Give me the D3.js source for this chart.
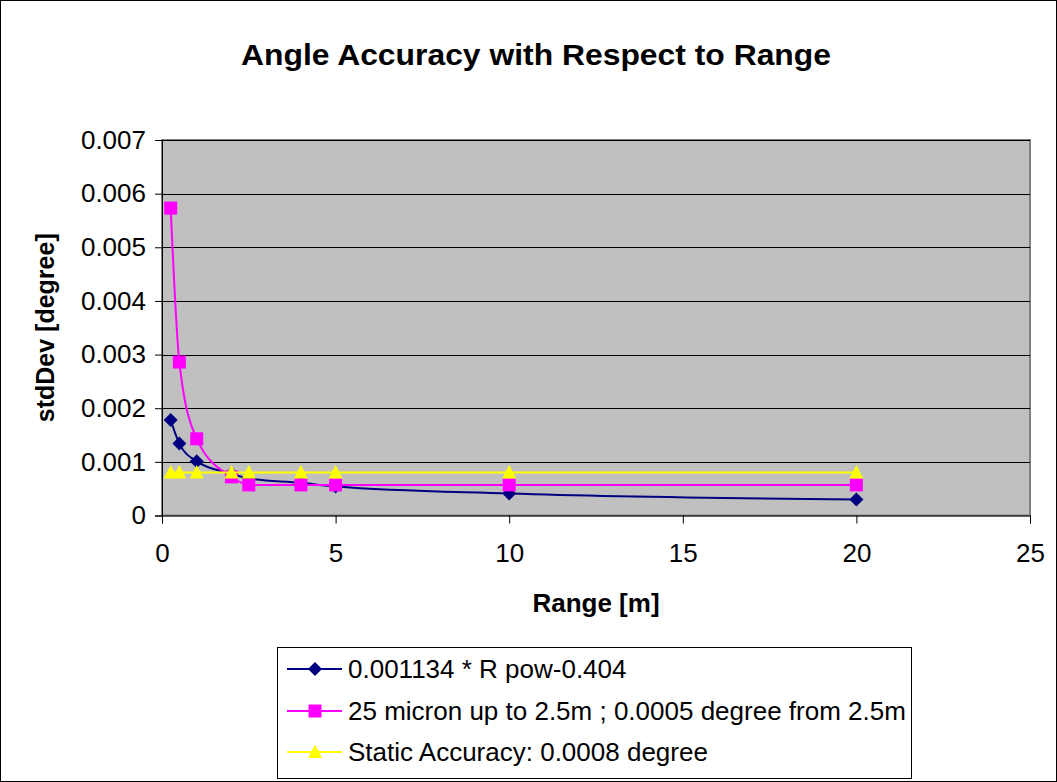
<!DOCTYPE html>
<html>
<head>
<meta charset="utf-8">
<script src="https://cdn.jsdelivr.net/npm/d3@7"></script>
<style>
  html, body { margin: 0; padding: 0; background: #fff; }
  svg { display: block; font-family: "Liberation Sans", Arial, sans-serif; }
</style>
</head>
<body>
<svg id="chart" width="1057" height="782"></svg>
<script>
// ---- data ----
const ranges = [0.25, 0.5, 1, 2, 2.5, 4, 5, 10, 20];
const powerFit = [0.00178, 0.00134, 0.00101, 0.00078, 0.00069, 0.00061, 0.00054, 0.00041, 0.00030];
const micron25 = [0.00573, 0.00286, 0.00143, 0.00072, 0.00057, 0.00057, 0.00057, 0.00057, 0.00057];
const staticAcc = [0.0008, 0.0008, 0.0008, 0.0008, 0.0008, 0.0008, 0.0008, 0.0008, 0.0008];
const xTicks = [0, 5, 10, 15, 20, 25];
const yTicks = [0, 0.001, 0.002, 0.003, 0.004, 0.005, 0.006, 0.007];
const seriesNames = ["0.001134 * R pow-0.404", "25 micron up to 2.5m ; 0.0005 degree from 2.5m", "Static Accuracy: 0.0008 degree"];
const seriesColors = ["#000080", "#FF00FF", "#FFFF00"];
const seriesShapes = ["diamond", "square", "triangle"];
const chartTitle = "Angle Accuracy with Respect to Range";
const xTitle = "Range [m]";
const yTitle = "stdDev [degree]";

const series = [powerFit, micron25, staticAcc].map((vals, i) => ({
  name: seriesNames[i], color: seriesColors[i], shape: seriesShapes[i],
  points: ranges.map((r, j) => ({x: r, y: vals[j]}))
}));

const svg = d3.select("#chart");
const W = 1057, H = 782;
const plot = {left: 162, top: 140, right: 1030, bottom: 515.5};

// outer frame
svg.append("rect").attr("x", 0.5).attr("y", 0.5).attr("width", W - 1).attr("height", H - 1)
  .attr("fill", "#fff").attr("stroke", "#000").attr("stroke-width", 1);

const x = d3.scaleLinear().domain([0, 25]).range([plot.left, plot.right]);
const y = d3.scaleLinear().domain([0, 0.007]).range([plot.bottom, plot.top]);

// plot background
svg.append("rect").attr("x", plot.left).attr("y", plot.top)
  .attr("width", plot.right - plot.left).attr("height", plot.bottom - plot.top)
  .attr("fill", "#C0C0C0").attr("stroke", "#808080").attr("stroke-width", 2);

// gridlines
svg.append("g").selectAll("line").data(yTicks.filter(d => d > 0)).join("line")
  .attr("x1", plot.left).attr("x2", plot.right)
  .attr("y1", d => Math.round(y(d)) + 0.5).attr("y2", d => Math.round(y(d)) + 0.5)
  .attr("stroke", "#000").attr("stroke-width", 1);

// axes
const yAxis = d3.axisLeft(y).tickValues(yTicks).tickSize(7).tickPadding(9)
  .tickFormat(d => d === 0 ? "0" : d3.format(".3f")(d));
const gy = svg.append("g").attr("transform", `translate(${plot.left},0)`).call(yAxis);
gy.select(".domain").attr("stroke", "#000");
gy.selectAll(".tick line").attr("stroke", "#000");
gy.selectAll(".tick text").attr("font-size", 26).attr("fill", "#000")
  .attr("font-family", "Liberation Sans, Arial, sans-serif");

const xAxis = d3.axisBottom(x).tickValues(xTicks).tickSize(8).tickPadding(20)
  .tickFormat(d3.format("d"));
const gx = svg.append("g").attr("transform", `translate(0,${plot.bottom})`).call(xAxis);
gx.select(".domain").attr("stroke", "#000");
gx.selectAll(".tick line").attr("stroke", "#000");
gx.selectAll(".tick text").attr("font-size", 26).attr("fill", "#000")
  .attr("font-family", "Liberation Sans, Arial, sans-serif");

// marker shapes
function markerPath(shape) {
  if (shape === "diamond") return "M0,-7L7,0L0,7L-7,0Z";
  if (shape === "square") return "M-6.5,-6.5H6.5V6.5H-6.5Z";
  return "M0,-7.5L7,6L-7,6Z";
}

const line = d3.line().x(d => x(d.x)).y(d => y(d.y)).curve(d3.curveMonotoneX);

series.forEach(s => {
  const g = svg.append("g");
  g.append("path").datum(s.points).attr("d", line)
    .attr("fill", "none").attr("stroke", s.color).attr("stroke-width", 2);
  g.selectAll("path.m").data(s.points).join("path").attr("class", "m")
    .attr("transform", d => `translate(${x(d.x)},${y(d.y)})`)
    .attr("d", markerPath(s.shape)).attr("fill", s.color);
});

// title
svg.append("text").attr("x", 536).attr("y", 65).attr("text-anchor", "middle")
  .attr("font-size", 30).attr("font-weight", "bold")
  .attr("textLength", 590).attr("lengthAdjust", "spacingAndGlyphs").text(chartTitle);

// axis titles
svg.append("text").attr("x", (plot.left + plot.right) / 2).attr("y", 612)
  .attr("text-anchor", "middle").attr("font-size", 26).attr("font-weight", "bold").text(xTitle);
svg.append("text").attr("transform", `translate(54,${(plot.top + plot.bottom) / 2}) rotate(-90)`)
  .attr("text-anchor", "middle").attr("font-size", 25).attr("font-weight", "bold").text(yTitle);

// legend
const lg = svg.append("g");
lg.append("rect").attr("x", 277.5).attr("y", 647.5).attr("width", 634).attr("height", 131)
  .attr("fill", "#fff").attr("stroke", "#000").attr("stroke-width", 1);
const rowY = [669, 711, 752];
series.forEach((s, i) => {
  const cy = rowY[i];
  lg.append("line").attr("x1", 287).attr("x2", 342).attr("y1", cy).attr("y2", cy)
    .attr("stroke", s.color).attr("stroke-width", 2);
  lg.append("path").attr("transform", `translate(315,${cy})`).attr("d", markerPath(s.shape)).attr("fill", s.color);
  lg.append("text").attr("x", 348).attr("y", cy + 9).attr("font-size", 26).text(s.name);
});
</script>
</body>
</html>
